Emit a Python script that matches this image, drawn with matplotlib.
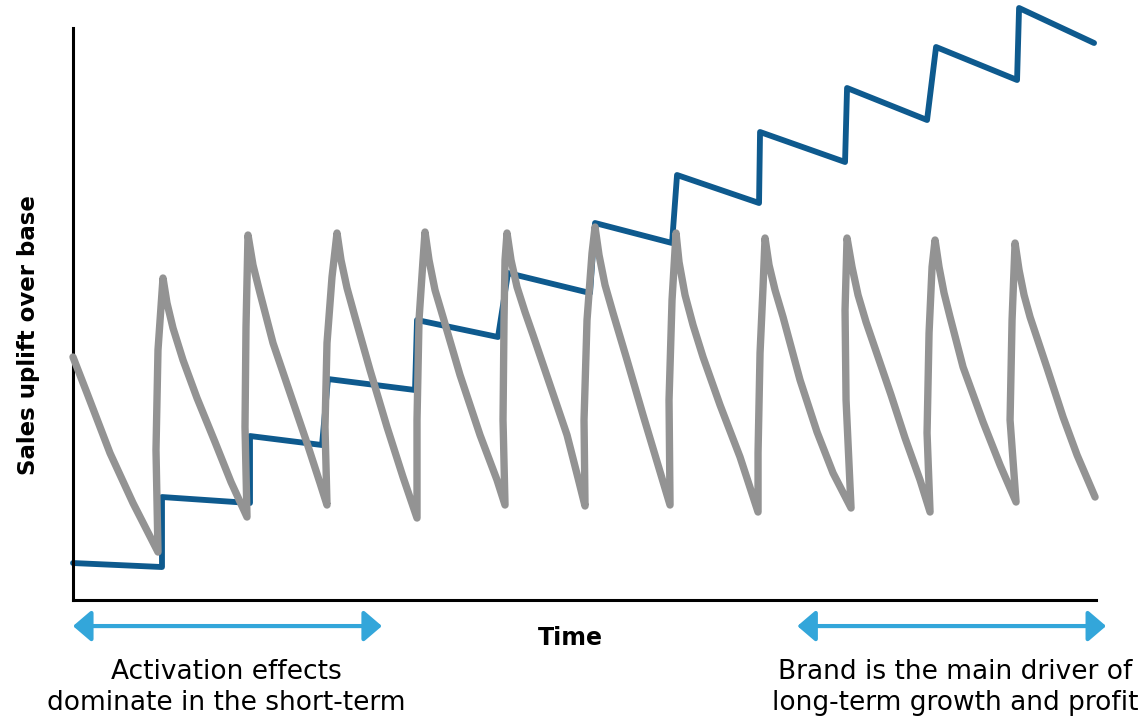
import matplotlib.pyplot as plt

# Brand (long-term) effect: staircase
brand_t = [0, 89, 89, 177, 177, 249, 255, 342, 344, 425, 435, 517, 522, 599,
           604, 686, 687, 772, 774, 854, 863, 944, 946, 1021]
brand_y = [37, 33, 103, 97, 164, 155, 221, 210, 280, 263, 327, 307, 377, 357,
           425, 397, 468, 438, 512, 480, 553, 520, 592, 557]

# Activation (short-term) effect: sawtooth spikes, one row per spike
act_t = [0, 14, 37, 60, 85,
         83, 85, 90, 94, 100, 110, 124, 142, 158, 174,
         172, 173, 175, 180, 187, 200, 217, 234, 247, 254,
         252, 254, 259, 264, 268, 274, 282, 297, 314, 330, 344,
         344, 346, 350, 352, 356, 362, 370, 387, 407, 424, 432,
         430, 431, 432, 434, 438, 444, 452, 460, 477, 494, 505, 512,
         511, 514, 519, 522, 526, 532, 540, 554, 570, 585, 597,
         596, 599, 603, 606, 612, 620, 630, 647, 667, 685,
         685, 687, 690, 692, 696, 702, 710, 727, 744, 760, 778,
         773, 772, 774, 779, 785, 793, 805, 818, 832, 847, 857,
         854, 856, 859, 862, 866, 871, 877, 890, 910, 927, 943,
         937, 939, 942, 946, 951, 957, 974, 990, 1004, 1022]
act_y = [243, 207, 147, 97, 48,
         150, 250, 322, 297, 272, 240, 202, 158, 118, 83,
         173, 273, 365, 335, 307, 257, 207, 157, 117, 95,
         173, 257, 323, 367, 340, 312, 283, 230, 173, 123, 82,
         180, 280, 340, 368, 340, 310, 283, 225, 165, 120, 95,
         180, 280, 340, 367, 340, 313, 288, 265, 215, 165, 122, 94,
         180, 280, 347, 373, 345, 315, 287, 240, 185, 135, 95,
         200, 300, 367, 338, 305, 275, 243, 195, 143, 88,
         147, 247, 313, 362, 335, 310, 283, 220, 168, 127, 92,
         200, 290, 362, 333, 305, 278, 243, 205, 162, 120, 88,
         167, 267, 333, 360, 333, 307, 283, 233, 178, 135, 98,
         180, 280, 357, 330, 305, 283, 232, 183, 145, 103]

BLUE = "#0e5a8e"
GREY = "#939393"
ARROW = "#33a6da"

fig = plt.figure(figsize=(11.44, 7.18), dpi=100)
ax = fig.add_axes([0.0638, 0.1643, 0.8943, 0.7967])

ax.plot(brand_t, brand_y, color=BLUE, lw=4.2, solid_joinstyle="round",
        solid_capstyle="round", clip_on=False, zorder=2)
ax.plot(act_t, act_y, color=GREY, lw=5.3, solid_joinstyle="round",
        solid_capstyle="round", clip_on=False, zorder=3)

ax.set_xlim(0, 1023)
ax.set_ylim(0, 572)
ax.set_xticks([])
ax.set_yticks([])
for side in ["top", "right"]:
    ax.spines[side].set_visible(False)
for side in ["left", "bottom"]:
    ax.spines[side].set_linewidth(2.2)
    ax.spines[side].set_color("black")

# double-headed arrows under the axis
arrow_style = dict(arrowstyle="<|-|>,head_length=0.55,head_width=0.47",
                   color=ARROW, lw=3, shrinkA=0, shrinkB=0, mutation_scale=20)
ax.annotate("", xy=(0.302, -0.0455), xytext=(0.0, -0.0455),
            xycoords="axes fraction", arrowprops=arrow_style,
            annotation_clip=False)
ax.annotate("", xy=(1.0098, -0.0455), xytext=(0.708, -0.0455),
            xycoords="axes fraction", arrowprops=arrow_style,
            annotation_clip=False)

fig.text(0.499, 0.1114, "Time", ha="center", va="center",
         fontsize=17, fontweight="bold")
fig.text(0.0245, 0.533, "Sales uplift over base", ha="center", va="center",
         rotation=90, fontsize=16.5, fontweight="bold")
fig.text(0.1976, 0.0418, "Activation effects\ndominate in the short-term",
         ha="center", va="center", fontsize=19, linespacing=1.25)
fig.text(0.835, 0.0418, "Brand is the main driver of\nlong-term growth and profit",
         ha="center", va="center", fontsize=19, linespacing=1.25)

fig.savefig("out.png", dpi=100)
